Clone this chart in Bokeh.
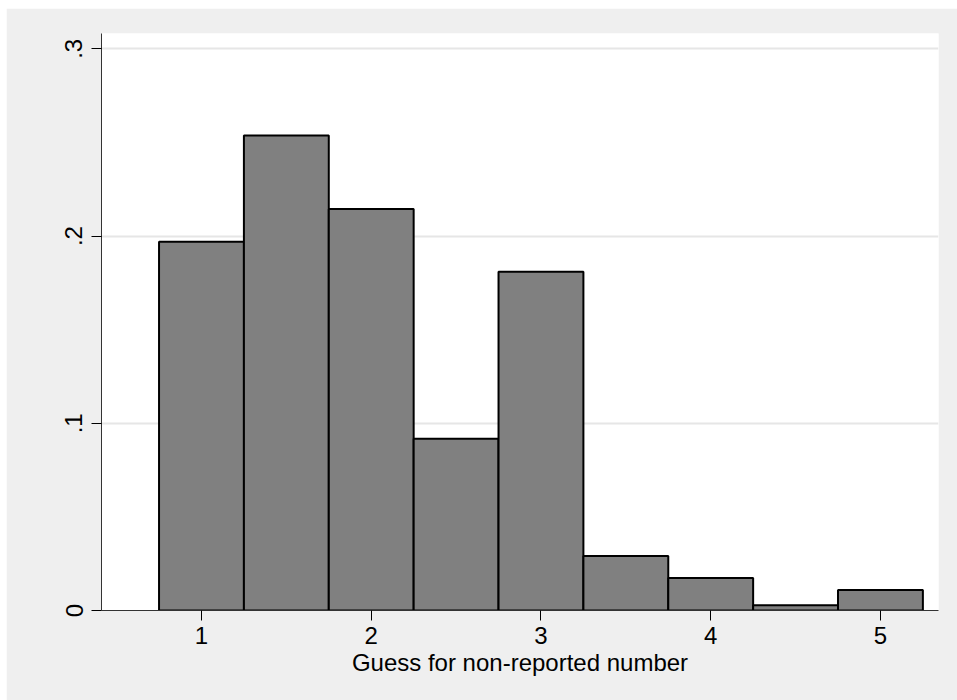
from bokeh.plotting import figure
from bokeh.models import FixedTicker, Range1d
from bokeh.embed import file_html
from bokeh.resources import INLINE

# Data (fraction histogram, bin width 0.5)
bin_centers = [1.0, 1.5, 2.0, 2.5, 3.0, 3.5, 4.0, 4.5, 5.0]
fractions = [0.1969, 0.2537, 0.2145, 0.0917, 0.1809, 0.0291, 0.0173, 0.0028, 0.0109]
bin_width = 0.5
x_ticks = [1, 2, 3, 4, 5]
y_ticks = [0, 0.1, 0.2, 0.3]
y_tick_labels = ["0", ".1", ".2", ".3"]
x_title = "Guess for non-reported number"

FONT = "Liberation Sans"

p = figure(width=951, height=692, output_backend="svg", toolbar_location=None,
           x_range=Range1d(0.411, 5.342), y_range=Range1d(0, 0.3082),
           min_border_left=95, min_border_right=19, min_border_top=25,
           min_border_bottom=90)
p.margin = (8, 0, 0, 6)

p.background_fill_color = "white"
p.border_fill_color = "#EFEFEF"
p.outline_line_color = None

p.vbar(x=bin_centers, top=fractions, width=bin_width, bottom=0,
       fill_color="#808080", line_color="black", line_width=2)

# axes
p.xaxis.ticker = FixedTicker(ticks=x_ticks)
p.yaxis.ticker = FixedTicker(ticks=y_ticks)
p.yaxis.major_label_overrides = {t: l for t, l in zip(y_ticks, y_tick_labels)}
p.yaxis.major_label_orientation = "vertical"

for ax in (p.xaxis, p.yaxis):
    ax.major_tick_out = 10
    ax.major_tick_in = 0
    ax.minor_tick_out = 0
    ax.minor_tick_in = 0
    ax.major_tick_line_color = "black"
    ax.major_label_text_font = FONT
    ax.major_label_text_font_size = "24px"
    ax.major_label_text_color = "black"
    ax.axis_line_color = "#333333"
    ax.axis_line_width = 1

p.xaxis.major_label_standoff = 6
p.yaxis.major_label_standoff = 9
p.xaxis.axis_label = x_title
p.xaxis.axis_label_text_font = FONT
p.xaxis.axis_label_text_font_size = "24px"
p.xaxis.axis_label_text_font_style = "normal"
p.xaxis.axis_label_text_color = "black"
p.xaxis.axis_label_standoff = 2

p.xgrid.grid_line_color = None
p.ygrid.ticker = FixedTicker(ticks=y_ticks)
p.ygrid.grid_line_color = "#E6E6E6"
p.ygrid.grid_line_width = 2

open("out.html", "w").write(file_html(p, INLINE))
